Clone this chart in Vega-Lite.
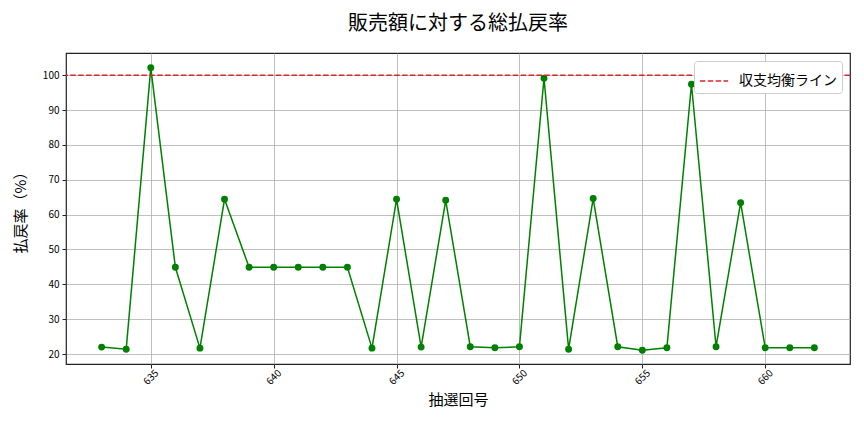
{
  "$schema": "https://vega.github.io/schema/vega-lite/v6.json",
  "width": 784,
  "height": 311,
  "autosize": "none",
  "padding": {"left": 66, "top": 53, "right": 14, "bottom": 68},
  "config": {
    "font": "Noto Sans CJK JP",
    "view": {"stroke": "#222222", "strokeWidth": 1.2},
    "axis": {
      "grid": true,
      "gridColor": "#b0b0b0",
      "gridWidth": 0.8,
      "domain": false,
      "tickColor": "#222222",
      "tickSize": 4,
      "labelFontSize": 10,
      "labelColor": "#000000",
      "labelOverlap": false,
      "titleFontSize": 15,
      "titleFontWeight": "normal",
      "titleColor": "#000000"
    }
  },
  "title": {
    "text": "販売額に対する総払戻率",
    "fontSize": 20,
    "fontWeight": "normal",
    "anchor": "middle",
    "offset": 19
  },
  "datasets": {
    "rates": [
      {"round": 633, "rate": 22.0},
      {"round": 634, "rate": 21.4},
      {"round": 635, "rate": 102.1},
      {"round": 636, "rate": 44.9},
      {"round": 637, "rate": 21.7},
      {"round": 638, "rate": 64.4},
      {"round": 639, "rate": 44.9},
      {"round": 640, "rate": 44.9},
      {"round": 641, "rate": 44.9},
      {"round": 642, "rate": 44.9},
      {"round": 643, "rate": 44.9},
      {"round": 644, "rate": 21.7},
      {"round": 645, "rate": 64.4},
      {"round": 646, "rate": 22.0},
      {"round": 647, "rate": 64.1},
      {"round": 648, "rate": 22.1},
      {"round": 649, "rate": 21.8},
      {"round": 650, "rate": 22.1},
      {"round": 651, "rate": 99.1},
      {"round": 652, "rate": 21.4},
      {"round": 653, "rate": 64.6},
      {"round": 654, "rate": 22.1},
      {"round": 655, "rate": 21.1},
      {"round": 656, "rate": 21.8},
      {"round": 657, "rate": 97.4},
      {"round": 658, "rate": 22.1},
      {"round": 659, "rate": 63.4},
      {"round": 660, "rate": 21.8},
      {"round": 661, "rate": 21.8},
      {"round": 662, "rate": 21.8}
    ],
    "breakeven": [{"rate": 100, "label": "収支均衡ライン"}]
  },
  "encoding": {
    "y": {
      "field": "rate",
      "type": "quantitative",
      "title": "払戻率（%）",
      "scale": {"domain": [17.15, 106.35], "nice": false, "zero": false},
      "axis": {
        "values": [20, 30, 40, 50, 60, 70, 80, 90, 100],
        "labelPadding": 3,
        "titlePadding": 14
      }
    }
  },
  "layer": [
    {
      "data": {"name": "rates"},
      "mark": {
        "type": "line",
        "color": "green",
        "strokeWidth": 1.5,
        "point": {"filled": true, "size": 48, "color": "green", "opacity": 1}
      },
      "encoding": {
        "x": {
          "field": "round",
          "type": "quantitative",
          "title": "抽選回号",
          "scale": {"domain": [631.55, 663.45], "nice": false, "zero": false},
          "axis": {
            "values": [635, 640, 645, 650, 655, 660],
            "labelAngle": -45,
            "labelAlign": "center",
            "labelBaseline": "middle",
            "labelPadding": 9,
            "titlePadding": 6
          }
        }
      }
    },
    {
      "data": {"name": "breakeven"},
      "mark": {"type": "rule", "strokeWidth": 1.5, "strokeDash": [5.5, 2.4]},
      "encoding": {
        "color": {
          "field": "label",
          "type": "nominal",
          "scale": {"range": ["#d62728"]},
          "legend": {
            "title": null,
            "orient": "top-right",
            "offset": 8,
            "symbolType": "stroke",
            "symbolDash": [5.5, 2.4],
            "symbolStrokeWidth": 1.5,
            "symbolSize": 800,
            "labelFontSize": 14,
            "labelOffset": 10,
            "labelColor": "#000000",
            "fillColor": "white",
            "strokeColor": "#cccccc",
            "cornerRadius": 3,
            "padding": 5
          }
        }
      }
    }
  ]
}
